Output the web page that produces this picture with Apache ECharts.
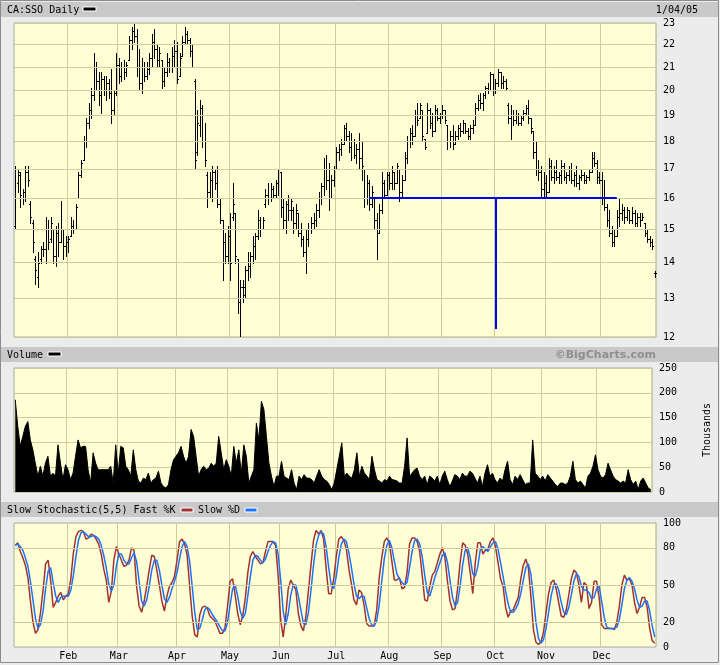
<!DOCTYPE html>
<html><head><meta charset="utf-8">
<script src="https://cdn.jsdelivr.net/npm/echarts@6/dist/echarts.min.js"></script>
<style>html,body{margin:0;padding:0;background:#ececec}#c{width:720px;height:665px}</style>
</head><body><div id="c"></div>
<script>
// ---- categories: TSX trading days 2004-01-02 .. 2005-01-04
const startDate = '2004-01-02';
const endDate = '2005-01-04';
const holidays = ['2004-04-09','2004-05-24','2004-07-01','2004-08-02','2004-09-06','2004-10-11','2004-12-27','2004-12-28','2005-01-03'];
const monthNames = ['Jan','Feb','Mar','Apr','May','Jun','Jul','Aug','Sep','Oct','Nov','Dec'];
const dates = [];
(function(){
  let d = new Date(startDate + 'T00:00:00Z');
  const e = new Date(endDate + 'T00:00:00Z');
  while (d <= e) {
    const s = d.toISOString().slice(0,10);
    const wd = d.getUTCDay();
    if (wd !== 0 && wd !== 6 && holidays.indexOf(s) < 0) dates.push(s);
    d = new Date(d.getTime() + 86400000);
  }
})();

// ---- price bars [open, high, low, close]
const ohlc = [
[15.1,17.1,15.0,16.0],[16.5,17.0,16.2,16.9],[16.8,16.9,15.7,16.1],[16.0,16.3,15.8,16.2],[16.2,17.1,15.9,16.9],[16.9,17.1,16.4,16.6],[15.8,15.9,15.2,15.4],[15.2,15.3,14.3,14.6],[14.1,14.2,13.4,13.8],[13.6,14.3,13.3,14.0],
[14.1,14.5,14.0,14.4],[14.4,14.6,14.2,14.4],[14.4,15.4,14.0,15.0],[15.0,15.3,14.4,14.6],[14.7,15.4,14.6,15.2],[15.0,15.0,14.0,14.2],[14.2,15.1,13.9,14.9],[14.9,15.2,14.2,14.6],[14.6,15.9,14.6,15.0],[15.0,15.0,14.1,14.5],
[14.5,14.8,14.2,14.6],[14.6,14.8,14.3,14.7],[14.8,15.4,14.8,15.1],[15.1,15.3,14.9,15.0],[15.0,15.8,15.0,15.7],[16.0,16.9,16.0,16.8],[16.8,17.3,16.7,17.2],[17.3,18.2,17.3,18.0],[18.0,18.9,17.8,18.7],[18.7,19.5,18.5,19.2],
[19.2,20.1,18.9,19.8],[19.8,21.6,19.6,21.0],[21.0,21.2,20.0,20.4],[20.4,20.8,19.4,19.8],[19.8,20.8,19.1,20.5],[20.5,20.6,19.8,20.0],[20.0,20.6,19.6,20.3],[20.3,20.5,19.7,19.9],[19.9,20.9,18.7,19.2],[19.2,20.0,19.0,19.9],
[19.9,21.6,19.8,21.1],[21.1,21.4,20.3,20.6],[20.6,21.2,20.4,21.0],[21.0,21.3,20.5,20.8],[20.8,21.2,20.6,21.1],[21.3,22.4,21.3,22.2],[22.2,22.8,21.8,22.6],[22.6,23.0,22.1,22.4],[22.4,22.7,20.6,21.0],[21.0,21.8,20.0,20.3],
[20.3,21.4,19.9,21.0],[21.0,21.2,20.4,20.6],[20.6,21.2,20.5,20.9],[20.9,21.6,20.7,21.4],[21.4,22.5,21.0,22.1],[22.1,22.7,21.4,21.8],[21.8,22.0,21.0,21.3],[21.3,21.9,21.0,21.6],[21.3,21.3,20.1,20.4],[20.4,21.0,20.2,20.8],
[20.8,21.6,20.6,21.2],[21.2,21.4,20.8,21.0],[21.0,21.9,20.8,21.5],[21.5,22.2,21.0,21.7],[21.7,22.1,20.3,20.5],[20.6,21.6,20.6,21.4],[21.5,22.4,21.5,22.1],[22.1,22.8,22.0,22.5],[22.5,22.6,22.0,22.2],[22.2,22.3,21.5,21.7],
[21.7,22.0,21.0,21.0],[20.4,20.5,17.0,17.3],[17.6,19.2,17.5,18.7],[18.6,19.6,18.2,19.3],[19.3,19.4,17.8,18.0],[18.0,18.7,17.1,17.3],[16.8,16.9,15.7,16.2],[16.2,16.9,16.0,16.6],[16.6,17.1,15.9,16.9],[16.9,17.0,16.3,16.5],
[16.5,17.1,15.7,15.8],[15.8,16.0,15.2,15.3],[15.3,15.3,13.5,14.6],[14.6,14.9,14.0,14.2],[14.2,15.1,14.0,14.8],[14.8,15.5,13.5,14.0],[15.4,16.5,15.3,15.8],[15.5,15.5,14.0,14.2],[14.1,14.1,12.6,12.9],[12.9,13.5,12.0,13.3],
[13.3,13.5,12.9,13.3],[13.1,13.9,13.0,13.8],[13.8,14.3,13.5,13.9],[13.9,14.3,13.6,14.2],[14.2,14.8,14.0,14.5],[14.5,14.9,14.1,14.8],[14.8,15.6,14.7,15.3],[15.3,15.4,14.8,15.0],[15.0,15.4,15.0,15.3],[15.8,16.3,15.7,16.1],
[16.1,16.5,15.8,16.0],[16.0,16.5,15.9,16.3],[16.3,16.4,16.0,16.1],[16.1,16.6,16.0,16.5],[16.5,17.0,16.1,17.0],[16.9,16.9,15.4,15.7],[15.7,16.0,15.0,15.3],[15.3,15.9,14.9,15.8],[15.8,16.1,15.3,15.6],[15.6,16.0,15.3,15.9],
[15.6,15.7,14.9,15.2],[15.2,15.8,15.0,15.6],[15.5,15.5,14.8,14.9],[14.9,15.2,14.5,14.7],[14.7,14.8,14.2,14.3],[14.3,15.0,13.7,14.7],[14.7,15.2,14.5,15.0],[15.0,15.4,14.9,15.2],[15.2,15.5,15.0,15.3],[15.3,15.8,15.1,15.6],
[15.6,16.2,15.4,16.0],[16.0,16.5,15.8,16.4],[16.4,17.4,16.1,17.0],[17.0,17.5,16.3,16.6],[16.6,17.2,15.6,16.0],[16.0,16.8,16.0,16.6],[16.6,17.1,16.4,17.0],[17.0,17.8,17.0,17.6],[17.6,17.9,17.3,17.7],[17.7,18.1,17.5,17.9],
[17.9,18.6,17.9,18.5],[18.5,18.7,18.0,18.2],[18.2,18.4,17.6,17.8],[17.8,18.3,17.3,18.0],[18.0,18.1,17.4,17.5],[17.5,17.9,17.2,17.7],[17.7,18.3,17.0,17.4],[17.4,18.0,16.6,17.1],[17.0,17.0,15.7,16.0],[16.0,16.8,15.8,16.5],
[16.5,16.6,15.6,15.8],[15.8,16.4,15.7,16.2],[16.0,16.0,15.0,15.3],[15.3,15.5,14.1,14.9],[14.9,15.8,14.9,15.6],[15.6,16.9,15.5,16.5],[16.5,16.6,16.0,16.1],[16.1,16.9,16.1,16.8],[16.8,16.9,16.3,16.5],[16.5,17.1,16.3,16.9],
[16.9,16.9,16.3,16.5],[16.5,17.2,16.5,17.1],[17.0,17.0,15.9,16.2],[16.2,16.8,16.0,16.6],[16.6,17.6,16.6,17.4],[17.4,18.2,17.2,18.0],[18.0,18.5,17.8,18.3],[18.3,18.6,17.9,18.2],[18.2,19.2,18.2,19.0],[19.0,19.5,18.6,18.8],
[18.9,19.5,18.9,19.4],[19.2,19.2,18.0,18.2],[18.1,18.1,17.7,17.8],[18.3,19.5,18.3,19.2],[19.2,19.3,18.5,18.7],[18.7,19.1,18.2,18.4],[18.4,19.4,18.4,19.2],[19.2,19.3,18.8,18.9],[18.9,19.1,18.7,19.0],[19.0,19.4,18.9,19.2],
[19.2,19.2,18.7,18.8],[18.6,18.6,17.7,18.0],[18.0,18.4,17.8,18.2],[18.2,18.6,17.7,17.9],[17.9,18.4,17.9,18.2],[18.2,18.6,18.1,18.5],[18.5,18.7,18.2,18.4],[18.4,18.8,18.3,18.7],[18.7,18.7,18.3,18.4],[18.4,18.5,18.1,18.2],
[18.2,18.6,18.1,18.5],[18.5,18.8,18.3,18.6],[18.6,19.5,18.6,19.3],[19.3,19.8,19.2,19.6],[19.6,19.9,19.3,19.5],[19.5,19.9,19.2,19.8],[19.8,20.2,19.7,20.1],[20.1,20.3,19.9,20.0],[20.0,20.8,20.0,20.7],[20.7,20.7,19.8,20.0],
[20.0,20.5,19.9,20.3],[20.3,20.9,20.2,20.8],[20.8,20.8,20.1,20.3],[20.3,20.6,20.1,20.4],[20.4,20.5,20.0,20.1],[19.4,19.5,18.7,18.9],[18.9,19.4,18.1,19.0],[19.0,19.2,18.6,18.8],[18.8,19.2,18.7,19.0],[19.0,19.1,18.6,18.7],
[18.7,19.0,18.6,18.9],[18.9,19.2,18.8,19.1],[19.1,19.4,19.0,19.3],[19.3,19.6,18.7,18.9],[18.9,18.9,18.3,18.5],[18.4,18.4,17.4,17.6],[17.6,18.0,16.8,17.0],[17.0,17.3,16.6,16.9],[16.9,17.1,16.0,16.3],[16.3,16.9,16.0,16.5],
[16.5,16.8,16.0,16.2],[16.2,17.4,16.2,17.1],[17.1,17.3,16.6,16.7],[16.7,17.1,16.5,16.9],[16.9,17.3,16.6,16.7],[16.7,16.9,16.5,16.8],[16.8,17.3,16.5,17.1],[17.1,17.2,16.6,16.7],[16.7,16.9,16.5,16.8],[16.8,17.1,16.6,17.0],
[17.0,17.2,16.5,16.6],[16.6,16.9,16.4,16.8],[16.8,17.1,16.4,16.5],[16.5,16.8,16.3,16.7],[16.7,17.0,16.6,16.8],[16.8,16.9,16.5,16.6],[16.6,16.8,16.5,16.7],[16.7,17.0,16.6,16.9],[16.9,17.6,16.9,17.4],[17.4,17.6,17.1,17.2],
[17.2,17.3,16.5,16.7],[16.7,16.9,16.5,16.6],[16.6,16.9,15.8,16.0],[16.0,16.6,15.6,15.7],[15.7,15.8,15.1,15.3],[15.3,15.6,14.8,14.9],[14.9,15.1,14.5,14.6],[14.6,15.0,14.5,14.8],[14.8,15.6,14.8,15.4],[15.4,16.0,15.1,15.5],
[15.5,15.8,15.3,15.6],[15.6,15.7,15.2,15.4],[15.4,15.7,15.3,15.6],[15.6,15.6,15.2,15.3],[15.3,15.7,15.2,15.5],[15.5,15.6,15.1,15.2],[15.2,15.5,15.1,15.4],[15.4,15.5,15.1,15.3],[15.3,15.5,15.3,15.4],[15.2,15.2,14.8,14.9],
[14.9,15.0,14.6,14.7],[14.7,14.8,14.5,14.6],[14.6,14.7,14.4,14.5],[13.7,13.75,13.6,13.7]
];

// ---- volume (thousands)
const volume = [
186,132,92,112,132,142,105,85,58,32, 52,32,58,72,32,38,32,95,58,25,
55,45,25,38,72,105,89,92,92,45, 18,79,58,45,45,45,45,45,52,18,
95,38,92,89,52,45,32,85,45,22, 18,28,25,38,18,25,28,42,18,11,
8,15,45,65,72,79,92,72,58,72, 126,112,72,32,45,52,45,48,58,52,
58,112,79,45,65,52,32,92,58,85, 38,95,72,18,32,45,139,105,183,166,
112,58,32,11,32,32,62,32,28,25, 45,18,5,32,25,35,28,28,25,18,
32,45,32,25,22,15,5,18,45,72, 99,32,38,32,28,45,79,32,52,38,
32,25,72,45,25,22,18,25,22,32, 25,24,22,18,18,52,109,32,38,45,
48,32,25,32,15,32,28,22,32,15, 32,42,25,11,22,35,32,25,38,32,
32,42,38,28,18,32,11,38,55,32, 38,25,18,28,22,45,62,25,15,32,
25,35,25,15,18,18,105,38,32,25, 32,22,35,28,22,15,11,18,18,15,
18,32,62,25,18,22,15,8,32,38, 52,75,45,32,28,35,58,45,32,25,
22,18,22,18,45,25,15,22,5,22, 28,18,8,5
];

// ---- slow stochastic (5,5)
const pctK = [
82,84,77,72,66,56,37,20,11,14, 28,46,67,70,54,32,36,41,44,38,
41,43,55,76,89,93,94,93,87,88, 91,90,87,83,75,63,54,36,45,70,
81,75,70,65,66,70,80,78,49,33, 28,37,49,62,74,73,62,50,37,29,
41,49,52,57,70,85,87,83,74,49, 25,10,8,26,32,33,31,25,23,21,
16,11,11,16,33,53,55,42,27,18, 25,39,60,73,77,73,70,67,68,77,
85,85,85,82,58,22,8,25,47,54, 50,46,27,17,13,25,46,66,86,94,
91,94,87,63,43,43,55,73,87,89, 86,79,63,51,38,34,46,44,34,19,
17,17,17,30,56,72,85,88,84,69, 54,54,56,47,48,60,83,88,88,85,
77,58,38,37,49,58,61,68,75,80, 72,53,37,30,31,47,68,84,82,75,
60,43,68,84,84,75,78,79,85,88, 81,68,55,49,32,24,29,30,35,40,
55,66,71,64,41,14,4,2,4,12, 28,43,52,54,47,36,25,24,30,42,
55,62,60,50,36,52,50,31,36,53, 53,40,18,15,15,15,15,14,20,33,
50,58,54,55,50,36,27,32,40,40, 32,15,5,3
];
const pctD = [
82,83,81,78,72,65,53,38,23,15, 18,29,47,61,64,52,41,36,40,41,
41,41,46,58,73,86,92,93,91,89, 89,90,89,87,82,74,64,51,45,50,
65,75,75,70,67,67,72,76,69,53, 37,33,38,49,62,70,70,62,50,39,
36,40,47,53,60,71,81,85,81,69, 49,28,14,15,22,30,32,30,26,23,
20,16,13,13,20,34,47,50,41,29, 23,27,41,57,70,74,73,70,68,71,
77,82,85,84,75,54,29,18,27,42, 50,50,41,30,19,18,28,46,66,82,
90,93,91,81,64,50,47,57,72,83, 87,85,76,64,51,41,39,41,41,32,
23,18,17,21,34,53,71,82,86,80, 69,59,55,52,50,52,64,77,86,87,
83,73,58,44,41,48,56,62,68,74, 76,68,54,40,33,36,49,66,78,80,
72,59,57,65,79,81,79,77,81,84, 85,79,68,57,45,35,28,28,31,35,
43,54,64,67,59,40,20,7,3,6, 15,28,41,50,51,46,36,28,26,32,
42,53,59,57,49,46,46,44,39,40, 47,49,37,24,16,15,15,15,16,22,
34,47,54,56,53,47,38,32,33,37, 37,29,17,8
];

// ---- ticks & annotations
const priceTicks = [12,13,14,15,16,17,18,19,20,21,22,23];
const stochLabels = [0,20,50,80,100];
const stochGrid = [20,50,80];
const trendLines = [
  {from:[140,16], to:[238,16]},
  {from:[190,16], to:[190,12.2]}
];

const FONT = '"DejaVu Sans Mono", monospace';
const GRIDC = '#cdcd9c';
const PLOTBG = '#ffffd6';

function isMonthStart(i){
  if (i <= 0 || i >= dates.length) return false;
  const m = dates[i].slice(5,7), pm = dates[i-1].slice(5,7);
  return m !== pm && m !== '01';
}

function xAxisFor(gi, showLabels){
  return {
    type:'category', gridIndex:gi, data:dates, boundaryGap:true,
    axisLine:{show:false}, axisTick:{show:false},
    axisLabel:{show:showLabels, interval:(i)=>isMonthStart(i), margin:4,
      formatter:(v)=>monthNames[parseInt(v.slice(5,7),10)-1], color:'#000',
      fontFamily:FONT, fontSize:10},
    splitLine:{show:true, interval:(i)=>isMonthStart(i), lineStyle:{color:GRIDC, width:1}}
  };
}

const ohlcData = ohlc.map((r,i)=>[i, r[0], r[1], r[2], r[3]]);

function renderOHLC(params, api){
  const i = api.value(0);
  const o = api.coord([i, api.value(1)]);
  const h = api.coord([i, api.value(2)]);
  const l = api.coord([i, api.value(3)]);
  const c = api.coord([i, api.value(4)]);
  const x = Math.round(h[0]) + 0.5;
  const st = {stroke:'#000', lineWidth:1};
  const oy = Math.round(o[1]) + 0.5, cy = Math.round(c[1]) + 0.5;
  return {type:'group', children:[
    {type:'line', shape:{x1:x, y1:Math.round(h[1]), x2:x, y2:Math.round(l[1])+1}, style:st},
    {type:'line', shape:{x1:x-1.5, y1:oy, x2:x, y2:oy}, style:st},
    {type:'line', shape:{x1:x, y1:cy, x2:x+1.5, y2:cy}, style:st}
  ]};
}

const chart = echarts.init(document.getElementById('c'), null, {renderer:'canvas'});
const gridCommon = {left:14, right:64, show:true, backgroundColor:PLOTBG, borderColor:'#a8a8a0', borderWidth:1};

chart.setOption({
  animation:false,
  backgroundColor:'#ececec',
  grid:[
    Object.assign({top:23, height:314}, gridCommon),
    Object.assign({top:368, height:124}, gridCommon),
    Object.assign({top:523, height:124}, gridCommon)
  ],
  xAxis:[xAxisFor(0,false), xAxisFor(1,false), xAxisFor(2,true)],
  yAxis:[
    {type:'log', gridIndex:0, min:12, max:23, position:'right',
     axisLabel:{show:false}, splitLine:{show:false}, axisLine:{show:false}, axisTick:{show:false}},
    {type:'value', gridIndex:1, min:0, max:250, interval:50, position:'right',
     axisLine:{show:false}, axisTick:{show:false},
     axisLabel:{color:'#000', fontFamily:FONT, fontSize:10, margin:7},
     splitLine:{lineStyle:{color:GRIDC, width:1}},
     name:'Thousands', nameLocation:'middle', nameRotate:90, nameGap:50,
     nameTextStyle:{color:'#000', fontFamily:FONT, fontSize:10}},
    {type:'value', gridIndex:2, min:0, max:100, interval:10, position:'right',
     axisLine:{show:false}, axisTick:{show:false}, splitLine:{show:false},
     axisLabel:{color:'#000', fontFamily:FONT, fontSize:10, margin:7,
       formatter:(v)=> stochLabels.indexOf(v) >= 0 ? String(v) : ''}}
  ],
  series:[
    {type:'line', name:'pgrid', xAxisIndex:0, yAxisIndex:0, z:1, silent:true,
     data:ohlc.map(r=>r[3]), showSymbol:false, lineStyle:{opacity:0},
     markLine:{silent:true, symbol:['none','none'], animation:false, emphasis:{disabled:true},
       lineStyle:{color:GRIDC, width:1, type:'solid'},
       label:{show:true, position:'end', distance:7, color:'#000', fontFamily:FONT, fontSize:10,
         formatter:(p)=>String(p.value)},
       data:priceTicks.map(v=>({yAxis:v}))}},
    {type:'custom', name:'CA:SSO', xAxisIndex:0, yAxisIndex:0, z:3, silent:true,
     renderItem:renderOHLC, data:ohlcData, encode:{x:0, y:[1,2,3,4]},
     markLine:{silent:true, symbol:['none','none'], animation:false, emphasis:{disabled:true},
       lineStyle:{color:'#0000ff', width:2, type:'solid'}, label:{show:false},
       data:trendLines.map(t=>[{coord:[dates[t.from[0]], t.from[1]]},{coord:[dates[t.to[0]], t.to[1]]}])}},
    {type:'line', name:'Volume', xAxisIndex:1, yAxisIndex:1, z:3, silent:true,
     data:volume, showSymbol:false, lineStyle:{color:'#000', width:1},
     areaStyle:{color:'#000', opacity:1}},
    {type:'line', name:'sgrid', xAxisIndex:2, yAxisIndex:2, z:1, silent:true,
     data:pctD, showSymbol:false, lineStyle:{opacity:0},
     markLine:{silent:true, symbol:['none','none'], animation:false, emphasis:{disabled:true},
       lineStyle:{color:GRIDC, width:1, type:'solid'}, label:{show:false},
       data:stochGrid.map(v=>({yAxis:v}))}},
    {type:'line', name:'Fast %K', xAxisIndex:2, yAxisIndex:2, z:3, silent:true,
     data:pctK, showSymbol:false, lineStyle:{color:'#a23232', width:1.5}},
    {type:'line', name:'Slow %D', xAxisIndex:2, yAxisIndex:2, z:4, silent:true,
     data:pctD, showSymbol:false, lineStyle:{color:'#1a73ff', width:1.5}}
  ],
  graphic:[
    {type:'rect', shape:{x:0.5, y:0.5, width:718, height:662}, style:{fill:'none', stroke:'#8c8c8c', lineWidth:1}, z:100},
    {type:'rect', shape:{x:1, y:2, width:717, height:15}, style:{fill:'#c9c9c9'}},
    {type:'text', x:7, y:10, style:{text:'CA:SSO Daily', font:'10px '+FONT, fill:'#000', textVerticalAlign:'middle'}},
    {type:'rect', shape:{x:83, y:7, width:13, height:4}, style:{fill:'#000', stroke:'#fff', lineWidth:1}},
    {type:'text', x:698, y:10, style:{text:'1/04/05', font:'10px '+FONT, fill:'#000', textAlign:'right', textVerticalAlign:'middle'}},
    {type:'rect', shape:{x:1, y:347, width:717, height:15}, style:{fill:'#c9c9c9'}},
    {type:'text', x:7, y:355, style:{text:'Volume', font:'10px '+FONT, fill:'#000', textVerticalAlign:'middle'}},
    {type:'rect', shape:{x:48, y:352, width:13, height:4}, style:{fill:'#000', stroke:'#fff', lineWidth:1}},
    {type:'text', x:656, y:355, style:{text:'\u00a9BigCharts.com', font:'bold 11px "DejaVu Sans", sans-serif', fill:'#8e8e8e', textAlign:'right', textVerticalAlign:'middle'}},
    {type:'rect', shape:{x:1, y:502, width:717, height:15}, style:{fill:'#c9c9c9'}},
    {type:'text', x:7, y:510, style:{text:'Slow Stochastic(5,5) Fast %K', font:'10px '+FONT, fill:'#000', textVerticalAlign:'middle'}},
    {type:'rect', shape:{x:181, y:508, width:12, height:4}, style:{fill:'#a23232', stroke:'#fff', lineWidth:1}},
    {type:'text', x:198, y:510, style:{text:'Slow %D', font:'10px '+FONT, fill:'#000', textVerticalAlign:'middle'}},
    {type:'rect', shape:{x:245, y:508, width:12, height:4}, style:{fill:'#1a73ff', stroke:'#fff', lineWidth:1}}
  ]
});
</script>
</body></html>
